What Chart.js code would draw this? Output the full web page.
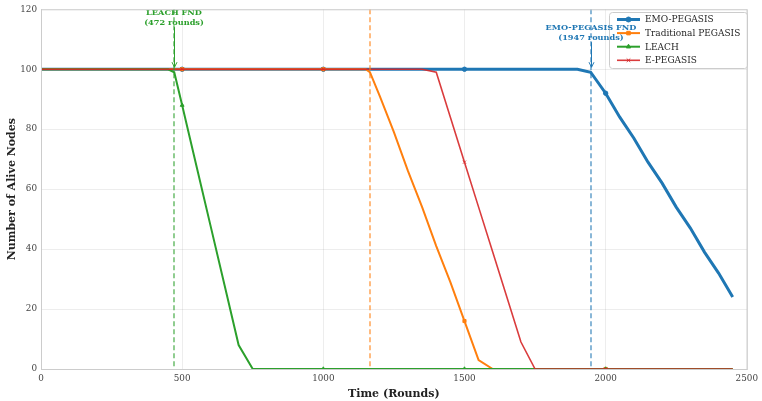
<!DOCTYPE html>
<html><head><meta charset="utf-8">
<script src="https://cdn.jsdelivr.net/npm/chart.js@4/dist/chart.umd.min.js"></script>
<style>html,body{margin:0;padding:0;background:#fff}#w{width:762px;height:401px}</style>
</head><body><div id="w"><canvas id="c" width="762" height="401"></canvas></div>
<script>
const seriesNames = ["EMO-PEGASIS","Traditional PEGASIS","LEACH","E-PEGASIS"];
const emoRounds = [0,500,1000,1500,1900,1947,2000,2050,2100,2150,2200,2250,2300,2350,2400,2450];
const emoAlive  = [100,100,100,100,100,99,92,84,77,69,62,54,47,39,32,24];
const tradRounds = [0,500,1000,1150,1165,1200,1250,1300,1350,1400,1450,1500,1550,1600,2000,2450];
const tradAlive  = [100,100,100,100,99,91,79,66,54,41,29,16,3,0,0,0];
const leachRounds = [0,450,472,500,550,600,650,700,750,1000,1500,2000,2450];
const leachAlive  = [100,100,99,88,68,48,28,8,0,0,0,0,0];
const epegRounds = [0,500,1000,1350,1400,1450,1500,1550,1600,1650,1700,1750,2000,2450];
const epegAlive  = [100,100,100,100,99,84,69,54,39,24,9,0,0,0];
const xTicks = [0,500,1000,1500,2000,2500];
const yTicks = [0,20,40,60,80,100,120];
const fndMarks = [
  {round:472, color:"#2ca02c", label:["LEACH FND","(472 rounds)"], textY:118.7},
  {round:1165, color:"#ff7f0e", label:null},
  {round:1947, color:"#1f77b4", label:["EMO-PEGASIS FND","(1947 rounds)"], textY:113.7}
];
const colors = ["#1f77b4","#ff7f0e","#2ca02c","rgba(214,39,40,0.9)"];
const widths = [3,2,2,1.6];
const shapes = ["circle","rect","triangle","crossRot"];
const FONT = "'DejaVu Serif', serif";

function pts(xs, ys){ return xs.map((x,i)=>({x:x,y:ys[i]})); }
const allX=[emoRounds,tradRounds,leachRounds,epegRounds];
const allY=[emoAlive,tradAlive,leachAlive,epegAlive];
const datasets = seriesNames.map((n,i)=>({
  label:n, data:pts(allX[i],allY[i]), showLine:true,
  borderColor:colors[i], backgroundColor:colors[i], borderWidth:widths[i],
  pointStyle:shapes[i], pointBorderWidth:1,
  pointRadius:(ctx)=>{const r=ctx.raw; return r && r.x%500===0 && r.x>0 ? 2.2:0;},
  pointHoverRadius:0, tension:0, order:3-i
}));

const overlay = {
  id:'overlay',
  afterDatasetsDraw(chart){
    const {ctx, chartArea:a, scales:{x,y}} = chart;
    ctx.save();
    fndMarks.forEach(m=>{
      const px = Math.round(x.getPixelForValue(m.round));
      ctx.strokeStyle=m.color; ctx.globalAlpha=0.75; ctx.lineWidth=1.4; ctx.setLineDash([5,3]);
      ctx.beginPath(); ctx.moveTo(px,a.top); ctx.lineTo(px,a.bottom); ctx.stroke();
      ctx.setLineDash([]); ctx.globalAlpha=1;
    });
    // legend
    const bx=609, by=12, bw=138, bh=56;
    ctx.fillStyle="rgba(255,255,255,0.8)"; ctx.strokeStyle="#cccccc"; ctx.lineWidth=1;
    ctx.beginPath(); ctx.roundRect(bx+0.5,by+0.5,bw,bh,3); ctx.fill(); ctx.stroke();
    ctx.font="9px "+FONT; ctx.textAlign="left"; ctx.textBaseline="middle";
    seriesNames.forEach((n,i)=>{
      const ly = by+7.5+i*13.6;
      ctx.strokeStyle=colors[i]; ctx.lineWidth=widths[i];
      ctx.beginPath(); ctx.moveTo(bx+8,ly); ctx.lineTo(bx+31,ly); ctx.stroke();
      ctx.fillStyle=colors[i]; ctx.strokeStyle=colors[i]; ctx.lineWidth=1;
      Chart.helpers.drawPoint(ctx,{pointStyle:shapes[i],radius:2.5,rotation:0,borderWidth:1},bx+19.5,ly);
      ctx.fillStyle="#262626"; ctx.fillText(n, bx+36, ly+0.5);
    });
    // annotations (drawn over legend)
    fndMarks.forEach(m=>{
      if(!m.label) return;
      const px = Math.round(x.getPixelForValue(m.round));
      const ty = y.getPixelForValue(m.textY);
      ctx.fillStyle=m.color; ctx.font="bold 8.2px "+FONT; ctx.textAlign="center"; ctx.textBaseline="middle";
      ctx.fillText(m.label[0], px, ty); ctx.fillText(m.label[1], px, ty+9.5);
      const y0 = ty+14, y1 = y.getPixelForValue(100)-2;
      ctx.strokeStyle=m.color; ctx.lineWidth=1;
      ctx.beginPath(); ctx.moveTo(px+0.5,y0); ctx.lineTo(px+0.5,y1); ctx.stroke();
      ctx.beginPath(); ctx.moveTo(px-2,y1-5); ctx.lineTo(px+0.5,y1); ctx.lineTo(px+3,y1-5); ctx.stroke();
    });
    ctx.restore();
  }
};

new Chart(document.getElementById('c'),{
  type:'scatter',
  data:{datasets},
  options:{
    responsive:false, animation:false, devicePixelRatio:1,
    layout:{padding:{top:8,right:15,left:6,bottom:0}},
    plugins:{legend:{display:false}, tooltip:{enabled:false}},
    scales:{
      x:{type:'linear', min:0, max:2500,
        afterBuildTicks:(s)=>{s.ticks=xTicks.map(v=>({value:v}));},
        afterFit:(s)=>{s.height=32;},
        grid:{color:"rgba(0,0,0,0.07)", drawTicks:false},
        border:{color:"#cccccc"},
        ticks:{font:{family:FONT,size:8.8}, color:"#444", padding:4, maxRotation:0, callback:(v)=>String(v)},
        title:{display:true, text:"Time (Rounds)", font:{family:FONT,size:11,weight:'bold'}, color:"#222", padding:{top:0,bottom:0}}
      },
      y:{type:'linear', min:0, max:120,
        afterBuildTicks:(s)=>{s.ticks=yTicks.map(v=>({value:v}));},
        afterFit:(s)=>{s.width=35;},
        grid:{color:"rgba(0,0,0,0.07)", drawTicks:false},
        border:{color:"#cccccc"},
        ticks:{font:{family:FONT,size:8.8}, color:"#444", padding:4, callback:(v)=>String(v)},
        title:{display:true, text:"Number of Alive Nodes", font:{family:FONT,size:11,weight:'bold'}, color:"#222", padding:{top:0,bottom:2}}
      }
    }
  },
  plugins:[overlay, {id:'frame', afterDraw(chart){const {ctx,chartArea:a}=chart;ctx.save();ctx.strokeStyle="#cccccc";ctx.lineWidth=1;ctx.strokeRect(a.left+0.5,a.top+0.5,a.right-a.left,a.bottom-a.top);ctx.restore();}}]
});
</script></body></html>
